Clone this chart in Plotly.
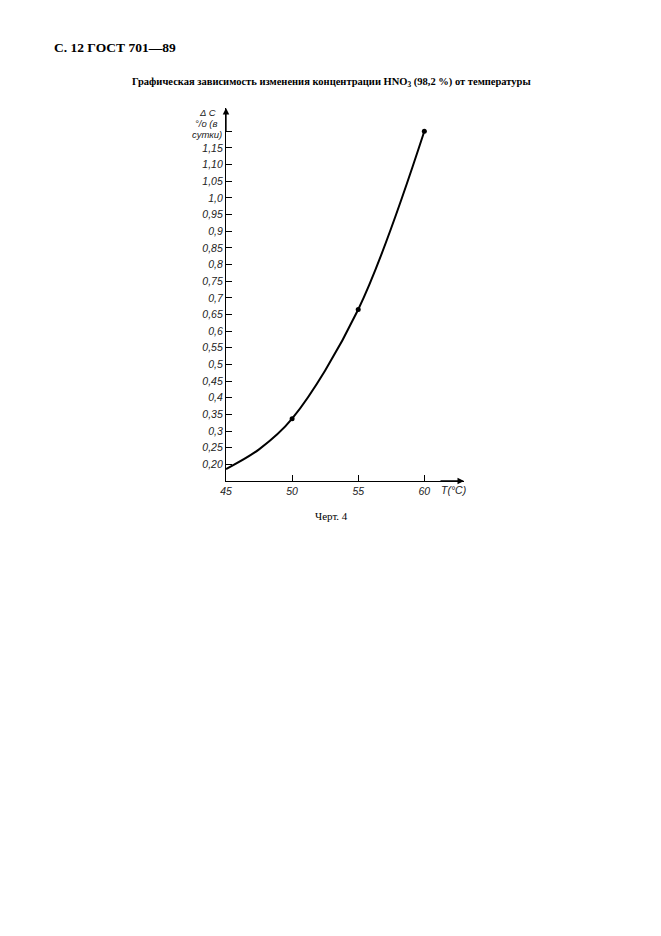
import plotly.graph_objects as go

# Data
temperature = [45, 47.5, 50, 55, 60]
delta_c = [0.186, 0.245, 0.337, 0.665, 1.20]
marked_temperature = [50, 55, 60]
marked_delta_c = [0.337, 0.665, 1.20]

x_ticks = [45, 50, 55, 60]
x_tick_labels = ["45", "50", "55", "60"]
y_ticks = [0.20, 0.25, 0.30, 0.35, 0.40, 0.45, 0.50, 0.55, 0.60, 0.65,
           0.70, 0.75, 0.80, 0.85, 0.90, 0.95, 1.00, 1.05, 1.10, 1.15, 1.20]
y_tick_labels = ["0,20", "0,25", "0,3", "0,35", "0,4", "0,45", "0,5", "0,55", "0,6", "0,65",
                 "0,7", "0,75", "0,8", "0,85", "0,9", "0,95", "1,0", "1,05", "1,10", "1,15", ""]

W, H = 661, 936
L, R, T, B = 226, 197, 108, 455

tick_font = dict(family="Liberation Sans Narrow, Liberation Sans, DejaVu Sans", size=10.5,
                 color="#222", style="italic")
label_font = dict(family="Liberation Sans, DejaVu Sans", size=9.5, color="#222", style="italic")

fig = go.Figure()
fig.add_trace(go.Scatter(x=temperature, y=delta_c, mode="lines",
                         line=dict(color="black", width=2, shape="spline", smoothing=1.0),
                         hoverinfo="skip", showlegend=False))
fig.add_trace(go.Scatter(x=marked_temperature, y=marked_delta_c, mode="markers",
                         marker=dict(color="black", size=5),
                         showlegend=False))

fig.update_xaxes(range=[45, 63], tickvals=x_ticks, ticktext=x_tick_labels,
                 ticks="inside", ticklen=6, tickwidth=1, tickcolor="black",
                 showline=True, linecolor="black", linewidth=1.3,
                 showgrid=False, zeroline=False, tickfont=tick_font)
fig.update_yaxes(range=[0.15, 1.27], tickvals=y_ticks, ticktext=y_tick_labels,
                 ticks="inside", ticklen=6, tickwidth=1, tickcolor="black",
                 showline=True, linecolor="black", linewidth=1.3,
                 showgrid=False, zeroline=False, tickfont=tick_font)

def px_x(p):
    return (p - L) / (W - L - R)

def px_y(p):
    return (H - B - p) / (H - T - B)

def label(px, py, text, font, xanchor="center"):
    return dict(x=px_x(px), y=px_y(py), xref="paper", yref="paper", text=text,
                showarrow=False, font=font, xanchor=xanchor, yanchor="middle")

serif = "Liberation Serif, DejaVu Serif"

annotations = [
    # axis arrows
    dict(x=1, y=0, xref="paper", yref="paper", ax=-25, ay=0, text="", showarrow=True,
         arrowhead=2, arrowsize=1, arrowwidth=1.3, arrowcolor="black"),
    dict(x=0, y=1, xref="paper", yref="paper", ax=0, ay=25, text="", showarrow=True,
         arrowhead=2, arrowsize=1, arrowwidth=1.3, arrowcolor="black"),
    # axis titles
    label(453, 490, "T(°C)", tick_font),
    label(207, 112, "Δ C", label_font),
    label(206, 123, "°/o (в", label_font),
    label(224, 134, "сутки)", label_font, xanchor="right"),
    # page header / title / caption
    label(52, 48, "<b>С. 12 ГОСТ 701—89</b>", dict(family=serif, size=13.5, color="black"),
          xanchor="left"),
    label(331, 83,
          "<b>Графическая зависимость изменения концентрации HNO<sub>3</sub> (98,2 %) от температуры</b>",
          dict(family=serif, size=10.5, color="black")),
    label(331, 516, "Черт. 4", dict(family=serif, size=11, color="black")),
]

fig.update_layout(width=W, height=H, margin=dict(l=L, r=R, t=T, b=B),
                  paper_bgcolor="white", plot_bgcolor="white",
                  annotations=annotations)

fig.write_html("out.html", config={"displayModeBar": False},
               post_script="document.body.style.margin='0';")
